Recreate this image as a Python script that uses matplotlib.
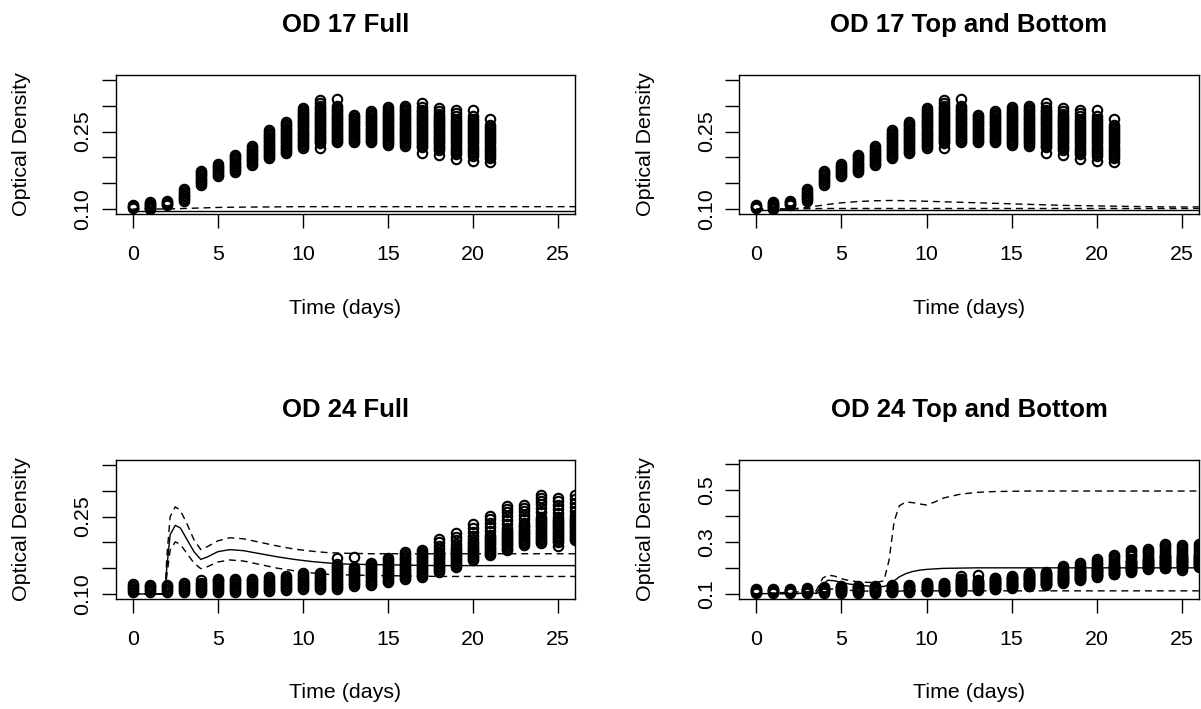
import matplotlib
matplotlib.use('Agg')
from matplotlib import pyplot as plt

plt.rcParams['font.family'] = ['Liberation Sans', 'DejaVu Sans']

# replicate readings per day (optical density), OD 17 plate
od17_days = list(range(22))
od17_values = [
    [0.1025, 0.104, 0.1055, 0.107],
    [0.100, 0.102, 0.104, 0.106, 0.108, 0.110, 0.112, 0.114],
    [0.108, 0.110, 0.112, 0.114, 0.1155],
    [0.116, 0.119, 0.122, 0.125, 0.128, 0.131, 0.134, 0.139],
    [0.147, 0.150, 0.153, 0.156, 0.159, 0.162, 0.165, 0.168, 0.171, 0.174],
    [0.163, 0.166, 0.169, 0.172, 0.175, 0.178, 0.181, 0.184, 0.188],
    [0.172, 0.175, 0.178, 0.181, 0.184, 0.187, 0.190, 0.193, 0.196, 0.199, 0.202, 0.205],
    [0.185, 0.188, 0.191, 0.194, 0.197, 0.200, 0.203, 0.206, 0.209, 0.212, 0.215, 0.218, 0.222],
    [0.198, 0.201, 0.204, 0.207, 0.210, 0.213, 0.216, 0.219, 0.222, 0.225, 0.228, 0.231, 0.234,
     0.237, 0.240, 0.243, 0.246, 0.249, 0.253],
    [0.208, 0.211, 0.214, 0.217, 0.220, 0.223, 0.226, 0.229, 0.232, 0.235, 0.238, 0.241, 0.244,
     0.247, 0.250, 0.253, 0.256, 0.259, 0.262, 0.265, 0.269],
    [0.219, 0.222, 0.225, 0.228, 0.231, 0.234, 0.237, 0.240, 0.243, 0.246, 0.249, 0.252, 0.255,
     0.258, 0.261, 0.264, 0.267, 0.270, 0.273, 0.276, 0.279, 0.282, 0.285, 0.288, 0.291, 0.295],
    [0.219, 0.227, 0.230, 0.233, 0.236, 0.239, 0.242, 0.245, 0.248, 0.251, 0.254, 0.257, 0.260,
     0.263, 0.266, 0.269, 0.272, 0.275, 0.278, 0.281, 0.284, 0.287, 0.290, 0.293, 0.296, 0.300,
     0.305, 0.311],
    [0.229, 0.232, 0.235, 0.238, 0.241, 0.244, 0.247, 0.250, 0.253, 0.256, 0.259, 0.262, 0.265,
     0.268, 0.271, 0.274, 0.277, 0.280, 0.283, 0.286, 0.289, 0.292, 0.295, 0.300, 0.314],
    [0.229, 0.232, 0.235, 0.238, 0.241, 0.244, 0.247, 0.250, 0.253, 0.256, 0.259, 0.262, 0.265,
     0.268, 0.271, 0.274, 0.277, 0.280, 0.283],
    [0.229, 0.232, 0.235, 0.238, 0.241, 0.244, 0.247, 0.250, 0.253, 0.256, 0.259, 0.262, 0.265,
     0.268, 0.271, 0.274, 0.277, 0.280, 0.283, 0.286, 0.290],
    [0.224, 0.227, 0.230, 0.233, 0.236, 0.239, 0.242, 0.245, 0.248, 0.251, 0.254, 0.257, 0.260,
     0.263, 0.266, 0.269, 0.272, 0.275, 0.278, 0.281, 0.284, 0.287, 0.290, 0.293, 0.298],
    [0.223, 0.226, 0.229, 0.232, 0.235, 0.238, 0.241, 0.244, 0.247, 0.250, 0.253, 0.256, 0.259,
     0.262, 0.265, 0.268, 0.271, 0.274, 0.277, 0.280, 0.283, 0.286, 0.289, 0.292, 0.295, 0.300],
    [0.209, 0.220, 0.223, 0.226, 0.229, 0.232, 0.235, 0.238, 0.241, 0.244, 0.247, 0.250, 0.253,
     0.256, 0.259, 0.262, 0.265, 0.268, 0.271, 0.274, 0.277, 0.280, 0.283, 0.286, 0.289, 0.292,
     0.297, 0.305],
    [0.205, 0.215, 0.218, 0.221, 0.224, 0.227, 0.230, 0.233, 0.236, 0.239, 0.242, 0.245, 0.248,
     0.251, 0.254, 0.257, 0.260, 0.263, 0.266, 0.269, 0.272, 0.275, 0.278, 0.281, 0.285, 0.290,
     0.296],
    [0.197, 0.207, 0.211, 0.215, 0.219, 0.223, 0.227, 0.231, 0.235, 0.239, 0.243, 0.247, 0.251,
     0.255, 0.259, 0.263, 0.267, 0.271, 0.275, 0.280, 0.287, 0.292],
    [0.193, 0.203, 0.207, 0.211, 0.215, 0.219, 0.223, 0.227, 0.231, 0.235, 0.239, 0.243, 0.247,
     0.251, 0.255, 0.259, 0.263, 0.267, 0.271, 0.275, 0.280, 0.292],
    [0.192, 0.199, 0.203, 0.207, 0.211, 0.215, 0.219, 0.223, 0.227, 0.231, 0.235, 0.239, 0.243,
     0.247, 0.251, 0.255, 0.259, 0.262, 0.274],
]

# OD 24 plate
od24_days = list(range(27))
od24_values = [
    [0.104, 0.107, 0.110, 0.113, 0.116, 0.120],
    [0.104, 0.107, 0.110, 0.113, 0.116, 0.118],
    [0.104, 0.107, 0.110, 0.113, 0.116, 0.118],
    [0.104, 0.107, 0.110, 0.113, 0.116, 0.119, 0.122],
    [0.104, 0.107, 0.110, 0.113, 0.116, 0.119, 0.122, 0.1265],
    [0.104, 0.107, 0.110, 0.113, 0.116, 0.119, 0.122, 0.125, 0.127, 0.130],
    [0.104, 0.107, 0.110, 0.113, 0.116, 0.119, 0.122, 0.125, 0.127, 0.130],
    [0.104, 0.107, 0.110, 0.113, 0.116, 0.119, 0.122, 0.125, 0.127, 0.130],
    [0.105, 0.108, 0.111, 0.114, 0.117, 0.120, 0.123, 0.126, 0.129, 0.133],
    [0.107, 0.110, 0.113, 0.116, 0.119, 0.122, 0.125, 0.128, 0.131, 0.135],
    [0.109, 0.112, 0.115, 0.118, 0.121, 0.124, 0.127, 0.130, 0.133, 0.136, 0.141],
    [0.109, 0.112, 0.115, 0.118, 0.121, 0.124, 0.127, 0.130, 0.133, 0.136, 0.141],
    [0.110, 0.113, 0.116, 0.119, 0.122, 0.125, 0.128, 0.131, 0.134, 0.137, 0.140, 0.143, 0.146,
     0.149, 0.152, 0.155, 0.158, 0.169],
    [0.1155, 0.119, 0.122, 0.125, 0.128, 0.131, 0.134, 0.137, 0.140, 0.143, 0.146, 0.149, 0.153,
     0.172],
    [0.117, 0.120, 0.123, 0.126, 0.129, 0.132, 0.135, 0.138, 0.141, 0.144, 0.147, 0.150, 0.153,
     0.156, 0.159, 0.161],
    [0.123, 0.126, 0.129, 0.132, 0.135, 0.138, 0.141, 0.144, 0.147, 0.150, 0.153, 0.156, 0.159,
     0.162, 0.165, 0.169],
    [0.1285, 0.131, 0.134, 0.137, 0.140, 0.143, 0.146, 0.149, 0.152, 0.155, 0.158, 0.161, 0.164,
     0.167, 0.170, 0.173, 0.177, 0.1816],
    [0.133, 0.136, 0.139, 0.142, 0.145, 0.148, 0.151, 0.154, 0.157, 0.160, 0.163, 0.166, 0.169,
     0.172, 0.175, 0.178, 0.181, 0.185],
    [0.143, 0.146, 0.149, 0.152, 0.155, 0.158, 0.161, 0.164, 0.167, 0.170, 0.173, 0.176, 0.179,
     0.182, 0.187, 0.193, 0.200, 0.2075],
    [0.152, 0.155, 0.158, 0.161, 0.164, 0.167, 0.170, 0.173, 0.176, 0.179, 0.182, 0.185, 0.188,
     0.191, 0.197, 0.204, 0.211, 0.219],
    [0.165, 0.168, 0.171, 0.174, 0.177, 0.180, 0.183, 0.186, 0.189, 0.192, 0.195, 0.198, 0.201,
     0.206, 0.213, 0.220, 0.228, 0.235],
    [0.175, 0.178, 0.181, 0.184, 0.187, 0.190, 0.193, 0.196, 0.199, 0.202, 0.205, 0.208, 0.211,
     0.215, 0.222, 0.230, 0.238, 0.245, 0.251],
    [0.185, 0.188, 0.191, 0.194, 0.197, 0.200, 0.203, 0.206, 0.209, 0.212, 0.215, 0.218, 0.221,
     0.224, 0.228, 0.236, 0.244, 0.251, 0.258, 0.264, 0.270],
    [0.1945, 0.198, 0.201, 0.204, 0.207, 0.210, 0.213, 0.216, 0.219, 0.222, 0.225, 0.228, 0.231,
     0.234, 0.238, 0.246, 0.254, 0.261, 0.267, 0.272],
    [0.198, 0.201, 0.204, 0.207, 0.210, 0.213, 0.216, 0.219, 0.222, 0.225, 0.228, 0.231, 0.234,
     0.237, 0.240, 0.243, 0.246, 0.250, 0.258, 0.266, 0.274, 0.281, 0.287, 0.292],
    [0.193, 0.200, 0.203, 0.206, 0.209, 0.212, 0.215, 0.218, 0.221, 0.224, 0.227, 0.230, 0.233,
     0.236, 0.239, 0.242, 0.245, 0.249, 0.257, 0.265, 0.273, 0.280, 0.2865],
    [0.204, 0.207, 0.210, 0.213, 0.216, 0.219, 0.222, 0.225, 0.228, 0.231, 0.234, 0.237, 0.240,
     0.243, 0.246, 0.249, 0.253, 0.261, 0.269, 0.277, 0.285, 0.292],
]

# fitted curves: mean (solid) and bounds (dashed)
fit17_full_t = [0, 2, 3, 4, 5, 6, 8, 10, 14, 18, 22, 26]
fit17_full_mean = [0.097] * 12
fit17_full_upper = [0.100, 0.100, 0.101, 0.102, 0.103, 0.1035, 0.104, 0.1045, 0.1045, 0.1045, 0.1045, 0.1045]

fit17_tb_t = [0, 2, 3, 4, 5, 6, 7, 8, 9, 10, 12, 14, 16, 18, 20, 22, 24, 26]
fit17_tb_mean = [0.099] * 18
fit17_tb_upper = [0.100, 0.100, 0.103, 0.108, 0.112, 0.1145, 0.116, 0.1165, 0.116, 0.115, 0.113,
                  0.111, 0.109, 0.107, 0.106, 0.105, 0.104, 0.104]
fit17_tb_lower = [0.100, 0.100, 0.1005, 0.101, 0.101, 0.101, 0.101, 0.101, 0.101, 0.101, 0.101,
                  0.101, 0.101, 0.101, 0.101, 0.101, 0.101, 0.101]

fit24_full_t = [0, 1, 1.9, 2.0, 2.2, 2.5, 2.8, 3.2, 3.6, 4.0, 4.4, 5.0, 5.7, 6.5, 7.5, 8.5,
                9.5, 10.5, 11.5, 12.5, 14, 16, 18, 20, 22, 24, 26]
fit24_full_mean = [0.100, 0.100, 0.100, 0.150, 0.215, 0.233, 0.228, 0.205, 0.182, 0.167, 0.172,
                   0.182, 0.186, 0.184, 0.178, 0.172, 0.167, 0.163, 0.160, 0.158, 0.157, 0.156,
                   0.155, 0.155, 0.155, 0.155, 0.155]
fit24_full_upper = [0.100, 0.100, 0.100, 0.170, 0.250, 0.269, 0.262, 0.235, 0.205, 0.186, 0.192,
                    0.203, 0.209, 0.207, 0.200, 0.193, 0.187, 0.183, 0.180, 0.179, 0.178, 0.178,
                    0.178, 0.178, 0.178, 0.178, 0.178]
fit24_full_lower = [0.100, 0.100, 0.100, 0.135, 0.185, 0.201, 0.196, 0.178, 0.160, 0.149, 0.153,
                    0.162, 0.166, 0.164, 0.157, 0.150, 0.145, 0.141, 0.138, 0.137, 0.136, 0.135,
                    0.134, 0.134, 0.134, 0.134, 0.134]

fit24_tb_t = [0, 3.5, 3.9, 4.2, 4.6, 5.0, 5.5, 6.0, 6.5, 7.0, 7.5, 7.8, 8.1, 8.4, 8.8, 9.2, 9.6,
              10.0, 10.5, 11, 12, 13, 14, 16, 18, 20, 22, 24, 26]
fit24_tb_mean = [0.100, 0.102, 0.135, 0.152, 0.150, 0.143, 0.137, 0.133, 0.130, 0.128, 0.128,
                 0.135, 0.150, 0.165, 0.178, 0.186, 0.191, 0.194, 0.196, 0.198, 0.199, 0.200,
                 0.200, 0.200, 0.200, 0.200, 0.200, 0.200, 0.200]
fit24_tb_upper = [0.100, 0.110, 0.160, 0.172, 0.168, 0.158, 0.150, 0.146, 0.144, 0.143, 0.150,
                  0.230, 0.380, 0.440, 0.455, 0.452, 0.447, 0.443, 0.455, 0.470, 0.485, 0.492,
                  0.495, 0.497, 0.497, 0.497, 0.497, 0.497, 0.497]
fit24_tb_lower = [0.100, 0.100, 0.110, 0.118, 0.118, 0.116, 0.113, 0.111, 0.110, 0.110, 0.110,
                  0.110, 0.110, 0.110, 0.111, 0.111, 0.111, 0.111, 0.111, 0.111, 0.111, 0.111,
                  0.111, 0.111, 0.111, 0.111, 0.111, 0.111, 0.111]

W, H = 1201, 709
LABEL_SIZE = 15.4
DASH = (0, (5, 3.5))


def panel(rect, title, days, values, fit_t, mean, bounds, ylim, yticks, ylabels):
    ax = fig.add_axes(rect)
    xs = [d for d, vals in zip(days, values) for _ in vals]
    ys = [v for vals in values for v in vals]
    ax.plot(xs, ys, 'o', mfc='none', mec='black', ms=6.8, mew=1.5, ls='none')
    ax.plot(fit_t, mean, c='black', lw=1.0)
    for b in bounds:
        ax.plot(fit_t, b, c='black', lw=1.0, ls=DASH)

    ax.set_xlim(-1, 26)
    ax.set_ylim(*ylim)
    ax.set_xticks([0, 5, 10, 15, 20, 25])
    ax.set_yticks(yticks)
    ax.set_yticklabels(ylabels)
    ax.tick_params(length=10, width=1.0, labelsize=LABEL_SIZE)
    ax.tick_params(axis='x', pad=12)
    ax.tick_params(axis='y', pad=7, labelrotation=90)
    for lab in ax.get_yticklabels():
        lab.set_va('center')
    for s in ax.spines.values():
        s.set_linewidth(1.0)
    ax.set_title(title, fontsize=18.5, fontweight='bold', pad=31)

    left = rect[0] * W
    fig.text((left - 94) / W, rect[1] + rect[3] / 2, 'Optical Density', rotation=90,
             ha='center', va='center', fontsize=LABEL_SIZE)
    fig.text(rect[0] + rect[2] / 2, rect[1] - 94 / H, 'Time (days)',
             ha='center', va='center', fontsize=LABEL_SIZE)
    return ax


fig = plt.figure(figsize=(W / 100, H / 100), dpi=100)

lx, rx = 115.7 / W, 739.3 / W
pw = 459.5 / W
ph = 139 / H
top_b, bot_b = 1 - 214 / H, 1 - 599 / H

t17 = [0.10, 0.15, 0.20, 0.25, 0.30, 0.35]
l17 = ['0.10', '', '', '0.25', '', '']
t24 = [0.1, 0.2, 0.3, 0.4, 0.5, 0.6]
l24 = ['0.1', '', '0.3', '', '0.5', '']

panel([lx, top_b, pw, ph], 'OD 17 Full', od17_days, od17_values,
      fit17_full_t, fit17_full_mean, [fit17_full_upper], (0.0903, 0.3597), t17, l17)
panel([rx, top_b, pw, ph], 'OD 17 Top and Bottom', od17_days, od17_values,
      fit17_tb_t, fit17_tb_mean, [fit17_tb_upper, fit17_tb_lower], (0.0903, 0.3597), t17, l17)
panel([lx, bot_b, pw, ph], 'OD 24 Full', od24_days, od24_values,
      fit24_full_t, fit24_full_mean, [fit24_full_upper, fit24_full_lower], (0.0903, 0.3597), t17, l17)
panel([rx, bot_b, pw, ph], 'OD 24 Top and Bottom', od24_days, od24_values,
      fit24_tb_t, fit24_tb_mean, [fit24_tb_upper, fit24_tb_lower], (0.0795, 0.617), t24, l24)

fig.savefig('out.png', dpi=100)
